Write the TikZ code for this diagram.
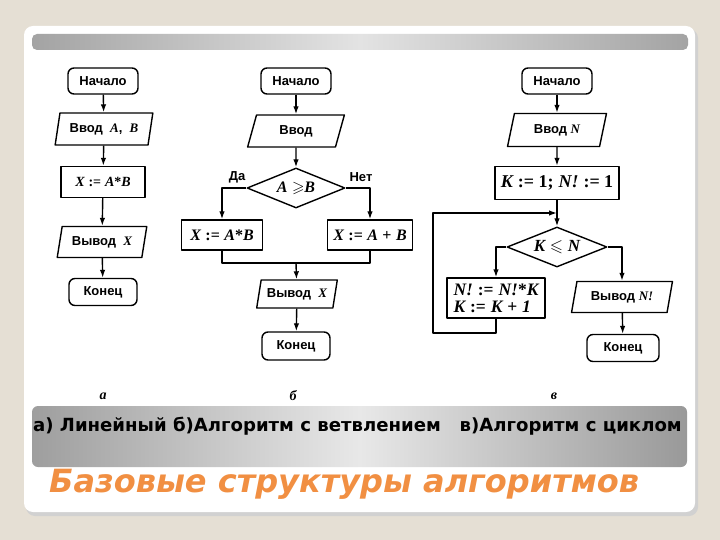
\documentclass[tikz,border=0pt]{standalone}
\usepackage{fontspec}
\usepackage{amssymb}
\setmainfont{Liberation Sans}
\newfontfamily\tms{Liberation Serif}
\newfontfamily\dvs{DejaVu Sans}
\usetikzlibrary{shapes.geometric,arrows.meta}

\definecolor{bgbeige}{RGB}{229,223,212}
\definecolor{ttlorange}{RGB}{241,143,66}
\newcommand{\fm}[1]{{\tms\bfseries\itshape #1}}
\newcommand{\fr}[1]{{\tms\bfseries #1}}

\begin{document}
\begin{tikzpicture}[x=1pt, y=-1pt, line join=round,
  fcbox/.style={draw, line width=1.4pt, inner sep=0pt, align=center, font=\bfseries\fontsize{13}{15}\selectfont},
  term/.style={fcbox, rounded corners=6pt, minimum width=70pt, minimum height=26pt},
  io/.style={fcbox, trapezium, trapezium left angle=72, trapezium right angle=108, trapezium stretches=true},
  proc/.style={fcbox, rectangle},
  cond/.style={fcbox, diamond, aspect=2.5},
  arr/.style={line width=1.4pt, -{Latex[length=8pt,width=5.5pt]}},
  lnk/.style={line width=1.4pt},
  sublbl/.style={font=\tms\bfseries\itshape\fontsize{14}{16}\selectfont}]

  %% ════ 背景 / 卡片 ════
  \fill[bgbeige] (0,0) rectangle (720,540);
  \fill[black!18, rounded corners=9pt] (26,29) rectangle (698,516);
  \fill[white, rounded corners=9pt] (24,26) rectangle (695,512);
  \shade[left color=black!36, right color=black!36, middle color=black!11, rounded corners=5pt] (32,34) rectangle (688,50);
  \shade[left color=black!38, right color=black!40, middle color=black!9, rounded corners=6pt] (32,406) rectangle (687,467);

  %% ════ а) 线性 ════
  \node[term] (startA) at (103,81) {Начало};
  \node[io, minimum width=98pt, minimum height=32pt] (inA) at (104,129) {Ввод\ \ \fm{A},\ \ \fm{B}};
  \node[proc, minimum width=84pt, minimum height=31pt, font=\fontsize{14}{16}\selectfont] (procA) at (103,182) {\fm{X} \fr{:=} \fm{A}\fr{*}\fm{B}};
  \node[io, minimum width=90pt, minimum height=31pt] (outA) at (102,242) {Вывод\ \ \fm{X}};
  \node[term, minimum width=68pt, minimum height=27pt] (endA) at (103,292) {Конец};

  \draw[arr] (startA) -- (inA);
  \draw[arr] (inA) -- (procA);
  \draw[arr] (procA) -- (outA);
  \draw[arr] (outA) -- (endA);

  %% ════ б) 分支 ════
  \node[term] (startB) at (296,81) {Начало};
  \node[io, minimum width=97pt, minimum height=32pt] (inB) at (296,131) {Ввод};
  \node[cond, minimum width=98pt, minimum height=40pt, font=\fontsize{16}{18}\selectfont] (condB) at (296,188) {\fm{A} $\geqslant$\fm{B}};
  \node[proc, minimum width=81pt, minimum height=30pt, font=\fontsize{16}{18}\selectfont] (leftB) at (222,235) {\fm{X} \fr{:=} \fm{A}\fr{*}\fm{B}};
  \node[proc, minimum width=85pt, minimum height=30pt, font=\fontsize{16}{18}\selectfont] (rightB) at (370,235) {\fm{X} \fr{:=} \fm{A} \fr{+} \fm{B}};
  \node[io, minimum width=81pt, minimum height=28pt] (outB) at (297,294) {Вывод\ \ \fm{X}};
  \node[term, minimum width=68pt, minimum height=28pt] (endB) at (296,346) {Конец};
  \node[font=\bfseries\fontsize{13}{15}\selectfont] (yesB) at (237,177) {Да};
  \node[font=\bfseries\fontsize{13}{15}\selectfont] (noB) at (361,177) {Нет};
  \coordinate (joinB) at (296,263);

  \draw[arr] (startB) -- (inB);
  \draw[arr] (inB) -- (condB);
  \draw[arr] (condB.west) -| (leftB);
  \draw[arr] (condB.east) -| (rightB);
  \draw[lnk] (leftB) |- (joinB) -| (rightB);
  \draw[arr] (joinB) -- (outB);
  \draw[arr] (outB) -- (endB);

  %% ════ в) 循环 ════
  \node[term] (startC) at (557,81) {Начало};
  \node[io, minimum width=99pt, minimum height=33pt] (inC) at (557,130) {Ввод \fm{N}};
  \node[proc, minimum width=124pt, minimum height=33pt, font=\fontsize{18}{20}\selectfont] (initC) at (557,183) {\fm{K} \fr{:= 1;} \fm{N!} \fr{:= 1}};
  \node[cond, minimum width=100pt, minimum height=40pt, font=\fontsize{17}{19}\selectfont] (condC) at (557,247) {\fm{K} $\leqslant$ \fm{N}};
  \node[proc, minimum width=98pt, minimum height=40pt, align=left, font=\fontsize{17.5}{17}\selectfont] (bodyC) at (496,298) {\fm{N!} \fr{:=} \fm{N!}\fr{*}\fm{K}\\\fm{K} \fr{:=} \fm{K} \fr{+} \fm{1}};
  \node[io, minimum width=101pt, minimum height=31pt] (outC) at (622,297) {Вывод \fm{N!}};
  \node[term, minimum width=72pt, minimum height=27pt] (endC) at (623,348) {Конец};
  \coordinate (joinC) at (557,213);
  \coordinate (loopC) at (433,333);

  \draw[arr] (startC) -- (inC);
  \draw[arr] (inC) -- (initC);
  \draw[arr] (initC) -- (condC);
  \draw[arr] (condC.west) -| (bodyC);
  \draw[arr] (condC.east) -| (outC);
  \draw[arr] (bodyC) |- (loopC) |- (joinC);
  \draw[arr] (outC) -- (endC);

  %% ════ 标签 ════
  \node[sublbl] (subA) at (103,396) {а};
  \node[sublbl] (subB) at (293,396) {б};
  \node[sublbl] (subC) at (554,396) {в};
  \node[font=\dvs\bfseries\fontsize{18.1}{21}\selectfont, anchor=west, inner sep=0pt] (caption) at (33,426) {а) Линейный б)Алгоритм с ветвлением\ \ \ в)Алгоритм с циклом};
  \node[font=\dvs\bfseries\itshape\fontsize{32}{36}\selectfont, text=ttlorange, anchor=west, inner sep=0pt] (title) at (49,484) {Базовые структуры алгоритмов};

  % 钉死画布
  \pgfresetboundingbox
  \path[use as bounding box] (0,0) rectangle (720,540);
\end{tikzpicture}
\end{document}
